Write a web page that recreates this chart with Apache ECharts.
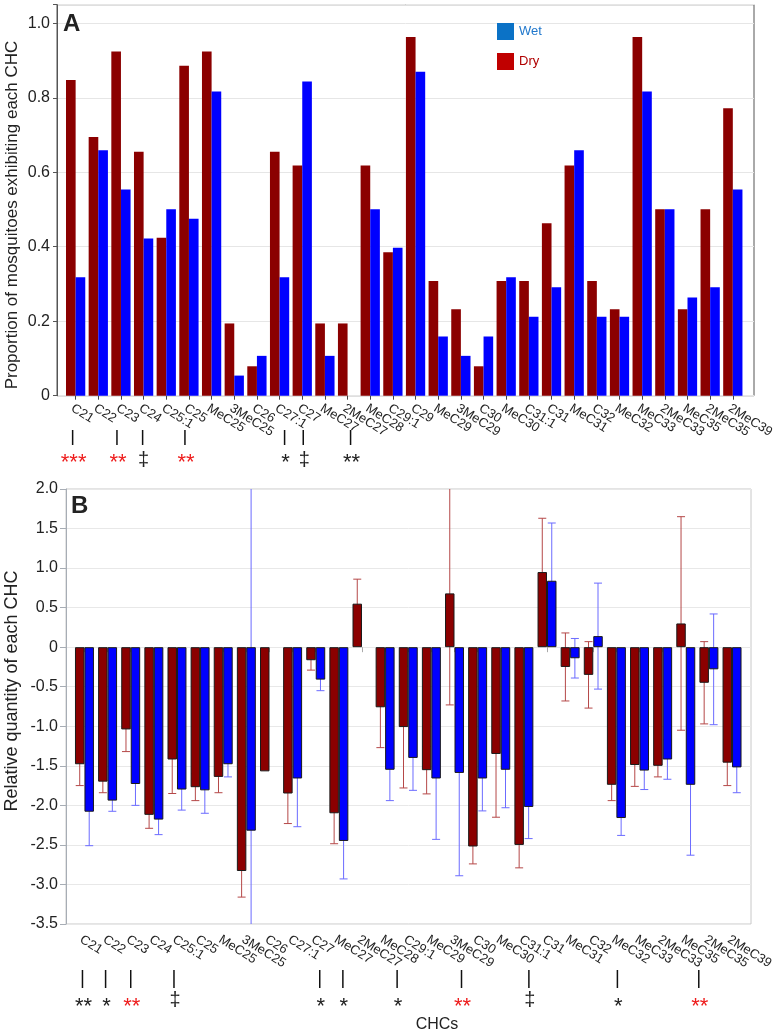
<!DOCTYPE html>
<html>
<head>
<meta charset="utf-8">
<script src="https://cdn.jsdelivr.net/npm/echarts@6/dist/echarts.min.js"></script>
<style>
html,body{margin:0;padding:0;background:#fff;}
#main{width:777px;height:1036px;}
</style>
</head>
<body>
<div id="main"></div>
<script>
// ---------- Panel A data ----------
const catsA = ['C21','C22','C23','C24','C25:1','C25','MeC25','3MeC25','C26','C27:1','C27','MeC27','2MeC27','MeC28','C29:1','C29','MeC29','3MeC29','C30','MeC30','C31:1','C31','MeC31','C32','MeC32','MeC33','2MeC33','MeC35','2MeC35','2MeC39'];
const dryA = [0.848,0.695,0.924,0.655,0.424,0.886,0.924,0.194,0.079,0.655,0.618,0.194,0.194,0.618,0.385,0.963,0.308,0.232,0.079,0.308,0.308,0.463,0.618,0.308,0.232,0.963,0.501,0.232,0.501,0.772];
const wetA = [0.318,0.659,0.554,0.422,0.501,0.475,0.817,0.054,0.107,0.318,0.844,0.107,0,0.501,0.397,0.870,0.159,0.107,0.159,0.318,0.212,0.291,0.659,0.212,0.212,0.817,0.501,0.264,0.291,0.554];
const yTicksA = [0, 0.2, 0.4, 0.6, 0.8, 1.0];

// ---------- Panel B data ----------
const catsB = ['C21','C22','C23','C24','C25:1','C25','MeC25','3MeC25','C26','C27:1','C27','MeC27','2MeC27','MeC28','C29:1','MeC29','3MeC29','C30','MeC30','C31:1','C31','MeC31','C32','MeC32','MeC33','2MeC33','MeC35','2MeC35','2MeC39'];
const dryB    = [-1.48,-1.70,-1.04,-2.12,-1.42,-1.77,-1.64,-2.83,-1.57,-1.85,-0.165,-2.10,0.55,-0.76,-1.01,-1.555,0.68,-2.52,-1.35,-2.50,0.95,-0.25,-0.35,-1.74,-1.49,-1.50,0.30,-0.45,-1.46];
const dryErrB = [0.27,0.14,0.28,0.17,0.43,0.17,0.20,0.33,0,0.38,0.125,0.385,0.31,0.51,0.77,0.30,1.41,0.22,0.80,0.29,0.68,0.43,0.42,0.20,0.27,0.14,1.35,0.52,0.29];
const wetB    = [-2.08,-1.94,-1.73,-2.18,-1.80,-1.81,-1.48,-2.32,null,-1.66,-0.41,-2.45,null,-1.55,-1.40,-1.66,-1.59,-1.66,-1.55,-2.02,0.84,-0.14,0.14,-2.16,-1.56,-1.42,-1.74,-0.28,-1.52];
const wetErrB = [0.43,0.135,0.27,0.19,0.26,0.29,0.16,4.6,null,0.61,0.14,0.48,null,0.39,0.41,0.77,1.30,0.41,0.48,0.40,0.73,0.25,0.67,0.22,0.24,0.25,0.89,0.70,0.32];

// ---------- significance annotations ----------
const sigA = [
  {cat:'C21', text:'***', color:'#ee1c1c', dx:-3},
  {cat:'C23', text:'**', color:'#ee1c1c', dx:-4},
  {cat:'C24', text:'\u2021', color:'#222', dx:-1},
  {cat:'C25', text:'**', color:'#ee1c1c', dx:-4},
  {cat:'C27:1', text:'*', color:'#222', dx:5},
  {cat:'C27', text:'\u2021', color:'#222', dx:1},
  {cat:'2MeC27', text:'**', color:'#222', dx:3}
];
const sigB = [
  {cat:'C21', text:'**', color:'#222', dx:-2},
  {cat:'C22', text:'*', color:'#222', dx:-2},
  {cat:'C23', text:'**', color:'#ee1c1c', dx:0},
  {cat:'C25:1', text:'\u2021', color:'#222', dx:-3},
  {cat:'C27', text:'*', color:'#222', dx:4},
  {cat:'MeC27', text:'*', color:'#222', dx:4},
  {cat:'MeC28', text:'*', color:'#222', dx:12},
  {cat:'3MeC29', text:'**', color:'#ee1c1c', dx:7},
  {cat:'C31:1', text:'\u2021', color:'#222', dx:5},
  {cat:'MeC32', text:'*', color:'#222', dx:1},
  {cat:'MeC35', text:'**', color:'#ee1c1c', dx:13}
];

const FONT = '"Liberation Sans", Arial, Helvetica, sans-serif';
const DRY = '#8b0000', WET = '#0000ff';
const GAP_A = 0.15, GAP_B = 0.18;

function fmt(v){ return Math.abs(v) < 1e-9 ? '0' : v.toFixed(1); }

function errRender(side, gap, color){
  return function(params, api){
    const idx = api.value(0), m = api.value(1), e = api.value(2);
    if (isNaN(m) || isNaN(e) || !e) return;
    const c = api.coord([idx, m]);
    const band = api.size([1, 0])[0];
    const bw = band * (1 - gap) / 2;
    const x = c[0] + side * bw / 2;
    const top = api.coord([idx, m + e])[1];
    const bot = api.coord([idx, m - e])[1];
    const cs = params.coordSys;
    const yMin = cs.y, yMax = cs.y + cs.height;
    const t = Math.max(top, yMin), b = Math.min(bot, yMax);
    const st = {stroke: color, lineWidth: 1};
    const ch = [{type:'line', shape:{x1:x, y1:t, x2:x, y2:b}, style:st}];
    const cw = 4;
    if (top >= yMin) ch.push({type:'line', shape:{x1:x-cw, y1:top, x2:x+cw, y2:top}, style:st});
    if (bot <= yMax) ch.push({type:'line', shape:{x1:x-cw, y1:bot, x2:x+cw, y2:bot}, style:st});
    return {type:'group', children: ch};
  };
}

const chart = echarts.init(document.getElementById('main'), null, {renderer:'canvas'});

const option = {
  animation: false,
  backgroundColor: '#fff',
  textStyle: {fontFamily: FONT},
  legend: {
    orient: 'vertical', left: 497, top: 23, padding: 0, itemWidth: 17, itemHeight: 17, itemGap: 13,
    icon: 'rect', selectedMode: false,
    textStyle: {fontSize: 13, fontFamily: FONT},
    data: [
      {name:'Wet', itemStyle:{color:'#0b72c6'}, textStyle:{color:'#2178cc'}},
      {name:'Dry', itemStyle:{color:'#c00000'}, textStyle:{color:'#b00000'}}
    ]
  },
  grid: [
    {left:57, top:4.7, width:697, height:391, show:true, borderColor:'#555', borderWidth:1, backgroundColor:'transparent'},
    {left:64.3, top:4.7, width:682, height:391},
    {left:66, top:489, width:685, height:435, show:true, borderColor:'#c8c8c8', borderWidth:1, backgroundColor:'transparent'},
    {left:72.9, top:489, width:670.7, height:435}
  ],
  xAxis: [
    {gridIndex:0, type:'value', min:0, max:1, show:false},
    {gridIndex:1, type:'category', data:catsA, axisLine:{show:false},
     axisTick:{show:true, alignWithLabel:true, length:4, lineStyle:{color:'#444'}},
     axisLabel:{interval:0, rotate:-32, fontSize:13, color:'#222', margin:6, verticalAlign:'top', fontFamily:FONT}},
    {gridIndex:2, type:'value', min:0, max:1, show:false},
    {gridIndex:3, type:'category', data:catsB, axisLine:{show:false},
     axisTick:{show:true, alignWithLabel:true, length:5, lineStyle:{color:'#aaa'}},
     axisLabel:{interval:0, rotate:-32, fontSize:13, color:'#222', margin:9, verticalAlign:'top', fontFamily:FONT}}
  ],
  yAxis: [
    {gridIndex:0, type:'value', min:0, max:1.05, interval:0.2,
     axisLine:{show:true, lineStyle:{color:'#555'}},
     axisTick:{show:true, length:4, lineStyle:{color:'#555'}},
     splitLine:{show:true, lineStyle:{color:'#e6e6e6'}},
     axisLabel:{fontSize:16, color:'#222', margin:7, fontFamily:FONT,
       formatter:function(v){ return yTicksA.some(t=>Math.abs(t-v)<1e-6) ? fmt(v) : ''; }}},
    {gridIndex:1, type:'value', min:0, max:1.05, show:false},
    {gridIndex:2, type:'value', min:-3.5, max:2, interval:0.5,
     axisLine:{show:true, lineStyle:{color:'#a7adb5'}},
     axisTick:{show:true, length:6, lineStyle:{color:'#a7adb5'}},
     splitLine:{show:true, lineStyle:{color:'#e8e8e8'}},
     axisLabel:{fontSize:16, color:'#222', margin:8, fontFamily:FONT, formatter:fmt}},
    {gridIndex:3, type:'value', min:-3.5, max:2, show:false}
  ],
  series: [
    {name:'Dry', type:'bar', xAxisIndex:1, yAxisIndex:1, data:dryA, barGap:'0%', barCategoryGap:(GAP_A*100)+'%',
     itemStyle:{color:DRY}, z:2},
    {name:'Wet', type:'bar', xAxisIndex:1, yAxisIndex:1, data:wetA, barGap:'0%', barCategoryGap:(GAP_A*100)+'%',
     itemStyle:{color:WET}, z:2},
    {name:'Dry B', type:'bar', xAxisIndex:3, yAxisIndex:3, data:dryB, barGap:'0%', barCategoryGap:(GAP_B*100)+'%',
     itemStyle:{color:DRY, borderColor:'#1a1a1a', borderWidth:1}, z:3},
    {name:'Wet B', type:'bar', xAxisIndex:3, yAxisIndex:3, data:wetB, barGap:'0%', barCategoryGap:(GAP_B*100)+'%',
     itemStyle:{color:WET, borderColor:'#1a1a1a', borderWidth:1}, z:3},
    {name:'Dry err', type:'custom', xAxisIndex:3, yAxisIndex:3, z:1,
     renderItem: errRender(-1, GAP_B, '#b54848'),
     data: catsB.map((c,i)=>[i, dryB[i], dryErrB[i]])},
    {name:'Wet err', type:'custom', xAxisIndex:3, yAxisIndex:3, z:1,
     renderItem: errRender(1, GAP_B, '#6b6bff'),
     data: catsB.map((c,i)=>[i, wetB[i] == null ? NaN : wetB[i], wetErrB[i] == null ? NaN : wetErrB[i]])}
  ]
};
chart.setOption(option);

// ---------- annotations (positions from the category axes) ----------
const els = [];
els.push({type:'text', x:63, y:24.5, style:{text:'A', font:'bold 24px '+FONT, fill:'#222', align:'left', verticalAlign:'middle'}});
els.push({type:'text', x:71, y:506, style:{text:'B', font:'bold 24px '+FONT, fill:'#222', align:'left', verticalAlign:'middle'}});
els.push({type:'text', x:12, y:215, rotation:Math.PI/2, style:{text:'Proportion of mosquitoes exhibiting each CHC', font:'17px '+FONT, fill:'#222', align:'center', verticalAlign:'middle'}});
els.push({type:'text', x:12, y:691, rotation:Math.PI/2, style:{text:'Relative quantity of each CHC', font:'18px '+FONT, fill:'#222', align:'center', verticalAlign:'middle'}});
els.push({type:'text', x:437, y:1025, style:{text:'CHCs', font:'16px '+FONT, fill:'#222', align:'center', verticalAlign:'middle'}});

function addSig(list, axisIdx, lineTop, lineBot, starMid, daggerMid){
  list.forEach(function(s){
    const cx = chart.convertToPixel({xAxisIndex: axisIdx}, s.cat) + s.dx;
    els.push({type:'line', shape:{x1:cx, y1:lineTop, x2:cx, y2:lineBot}, style:{stroke:'#111', lineWidth:1.5}});
    const isDag = s.text === '\u2021';
    els.push({type:'text', x:cx + 1, y: isDag ? daggerMid : starMid,
      style:{text:s.text, font:(isDag ? '20px ' : '22px ') + FONT, fill:s.color, align:'center', verticalAlign:'middle'}});
  });
}
addSig(sigA, 1, 430, 445, 463, 460);
addSig(sigB, 3, 970, 988, 1007, 1000);

chart.setOption({graphic: {elements: els}});
</script>
</body>
</html>
